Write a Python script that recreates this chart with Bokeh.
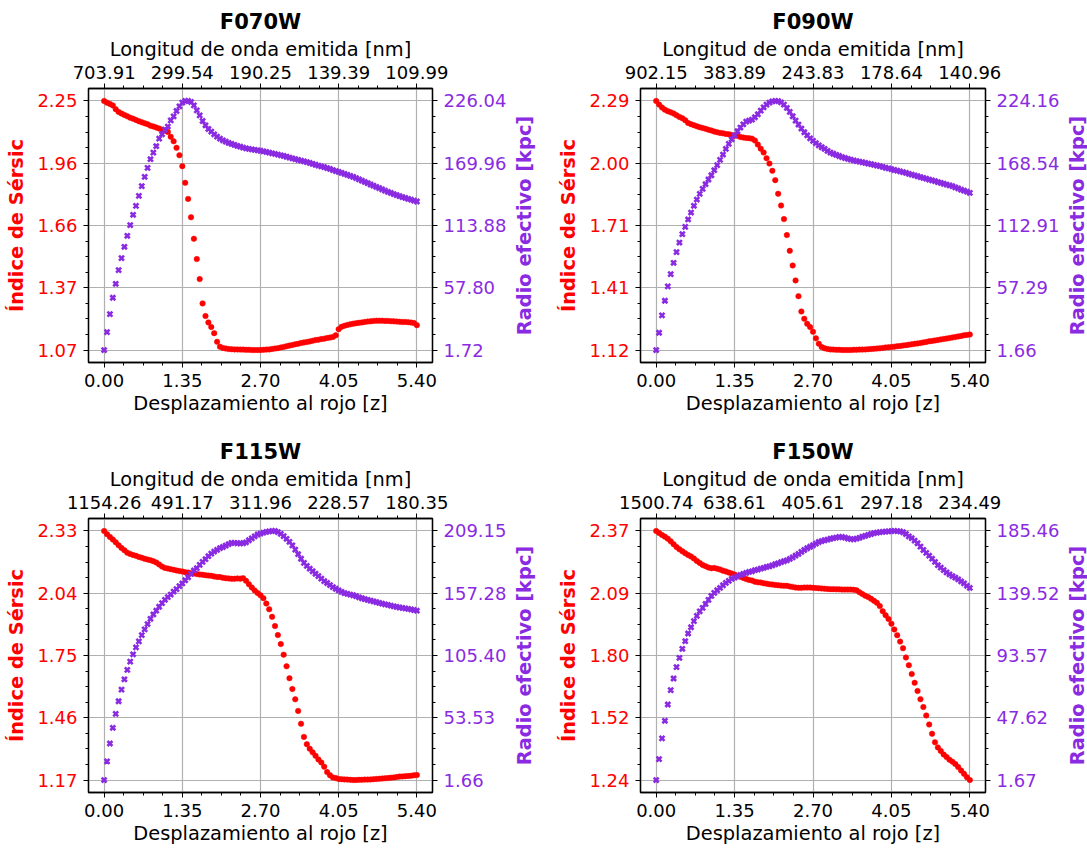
import numpy as np

from bokeh.embed import file_html
from bokeh.layouts import column, row
from bokeh.models import FixedTicker, LinearAxis, Range1d
from bokeh.plotting import figure
from bokeh.resources import INLINE

sersic_red = '#ff0000'
radius_purple = '#8a2be2'
font = 'DejaVu Sans'
tick_font_size = '18px'
label_font_size = '19.4px'
FRAME_H = 274

# redshift grid (same for every filter)
z = [0.00, 0.05, 0.10, 0.15, 0.20, 0.25, 0.30, 0.35, 0.40, 0.45,
     0.50, 0.55, 0.60, 0.65, 0.70, 0.75, 0.80, 0.85, 0.90, 0.95,
     1.00, 1.05, 1.10, 1.15, 1.20, 1.25, 1.30, 1.35, 1.40, 1.45,
     1.50, 1.55, 1.60, 1.65, 1.70, 1.75, 1.80, 1.85, 1.90, 1.95,
     2.00, 2.05, 2.10, 2.15, 2.20, 2.25, 2.30, 2.35, 2.40, 2.45,
     2.50, 2.55, 2.60, 2.65, 2.70, 2.75, 2.80, 2.85, 2.90, 2.95,
     3.00, 3.05, 3.10, 3.15, 3.20, 3.25, 3.30, 3.35, 3.40, 3.45,
     3.50, 3.55, 3.60, 3.65, 3.70, 3.75, 3.80, 3.85, 3.90, 3.95,
     4.00, 4.05, 4.10, 4.15, 4.20, 4.25, 4.30, 4.35, 4.40, 4.45,
     4.50, 4.55, 4.60, 4.65, 4.70, 4.75, 4.80, 4.85, 4.90, 4.95,
     5.00, 5.05, 5.10, 5.15, 5.20, 5.25, 5.30, 5.35, 5.40]
z_ticks = [0.0, 1.35, 2.7, 4.05, 5.4]
z_tick_labels = ['0.00', '1.35', '2.70', '4.05', '5.40']

filters = ['F070W', 'F090W', 'F115W', 'F150W']

wave_labels_070 = ['703.91', '299.54', '190.25', '139.39', '109.99']
wave_labels_090 = ['902.15', '383.89', '243.83', '178.64', '140.96']
wave_labels_115 = ['1154.26', '491.17', '311.96', '228.57', '180.35']
wave_labels_150 = ['1500.74', '638.61', '405.61', '297.18', '234.49']

sersic_labels_070 = ['1.07', '1.37', '1.66', '1.96', '2.25']
sersic_labels_090 = ['1.12', '1.41', '1.71', '2.00', '2.29']
sersic_labels_115 = ['1.17', '1.46', '1.75', '2.04', '2.33']
sersic_labels_150 = ['1.24', '1.52', '1.80', '2.09', '2.37']

radius_labels_070 = ['1.72', '57.80', '113.88', '169.96', '226.04']
radius_labels_090 = ['1.66', '57.29', '112.91', '168.54', '224.16']
radius_labels_115 = ['1.66', '53.53', '105.40', '157.28', '209.15']
radius_labels_150 = ['1.67', '47.62', '93.57', '139.52', '185.46']

sersic_070 = [2.250, 2.242, 2.236, 2.229, 2.211, 2.198, 2.190, 2.184, 2.177, 2.171,
              2.166, 2.160, 2.154, 2.149, 2.144, 2.140, 2.133, 2.129, 2.124, 2.119,
              2.114, 2.110, 2.103, 2.080, 2.059, 2.028, 1.993, 1.941, 1.862, 1.786,
              1.699, 1.597, 1.501, 1.406, 1.291, 1.231, 1.201, 1.179, 1.150, 1.109,
              1.086, 1.080, 1.077, 1.075, 1.074, 1.073, 1.073, 1.072, 1.072, 1.071,
              1.071, 1.070, 1.070, 1.070, 1.070, 1.071, 1.072, 1.073, 1.075, 1.077,
              1.079, 1.082, 1.085, 1.088, 1.091, 1.094, 1.097, 1.100, 1.103, 1.106,
              1.108, 1.111, 1.114, 1.117, 1.119, 1.122, 1.124, 1.127, 1.129, 1.132,
              1.140, 1.169, 1.180, 1.185, 1.189, 1.192, 1.195, 1.197, 1.199, 1.201,
              1.203, 1.205, 1.206, 1.208, 1.209, 1.209, 1.209, 1.208, 1.208, 1.207,
              1.206, 1.205, 1.204, 1.203, 1.203, 1.202, 1.200, 1.198, 1.188]
radius_070 = [1.72, 17.9, 34.1, 48.8, 61.4, 73.7, 84.5, 94.7, 104.6, 114.2,
              123.5, 131.6, 140.6, 149.3, 157.7, 165.8, 173.6, 179.5, 185.3, 192.1,
              196.0, 200.2, 203.0, 208.6, 212.2, 217.0, 221.2, 224.5, 226.0, 226.04,
              225.1, 222.1, 217.6, 213.1, 208.0, 204.1, 200.8, 198.4, 196.0, 193.9,
              192.1, 190.6, 189.4, 188.2, 187.3, 186.4, 185.5, 184.9, 184.0, 183.4,
              182.8, 182.4, 182.0, 181.6, 181.2, 180.7, 180.1, 179.5, 178.9, 178.3,
              177.8, 177.1, 176.5, 175.8, 175.1, 174.4, 173.7, 173.0, 172.3, 171.7,
              171.0, 170.2, 169.4, 168.6, 167.8, 167.1, 166.4, 165.6, 164.8, 163.8,
              162.9, 162.1, 161.3, 160.4, 159.5, 158.6, 157.7, 156.6, 155.4, 154.3,
              153.1, 152.0, 150.8, 149.7, 148.6, 147.5, 146.4, 145.3, 144.2, 143.2,
              142.2, 141.2, 140.3, 139.5, 138.7, 137.9, 137.1, 136.3, 135.5]

sersic_090 = [2.290, 2.273, 2.259, 2.249, 2.242, 2.237, 2.231, 2.223, 2.215, 2.209,
              2.199, 2.187, 2.181, 2.176, 2.171, 2.166, 2.163, 2.159, 2.155, 2.151,
              2.146, 2.143, 2.140, 2.138, 2.135, 2.134, 2.130, 2.127, 2.126, 2.121,
              2.118, 2.116, 2.115, 2.113, 2.104, 2.085, 2.066, 2.048, 2.021, 1.996,
              1.962, 1.918, 1.854, 1.799, 1.735, 1.660, 1.586, 1.517, 1.447, 1.373,
              1.301, 1.267, 1.243, 1.228, 1.206, 1.175, 1.150, 1.134, 1.128, 1.125,
              1.123, 1.122, 1.121, 1.121, 1.120, 1.120, 1.120, 1.120, 1.121, 1.121,
              1.122, 1.122, 1.123, 1.124, 1.125, 1.126, 1.127, 1.128, 1.130, 1.132,
              1.133, 1.134, 1.136, 1.138, 1.139, 1.141, 1.143, 1.145, 1.147, 1.149,
              1.151, 1.153, 1.156, 1.158, 1.161, 1.163, 1.165, 1.167, 1.170, 1.172,
              1.174, 1.176, 1.179, 1.181, 1.184, 1.186, 1.189, 1.191, 1.193]
radius_090 = [1.66, 17.1, 32.6, 45.7, 58.5, 69.5, 79.6, 89.1, 97.7, 105.2,
              111.7, 118.3, 124.5, 130.5, 136.1, 141.2, 145.6, 149.8, 154.0, 157.8,
              162.3, 166.8, 171.5, 176.3, 181.3, 185.8, 189.9, 193.5, 197.1, 200.4,
              203.3, 205.7, 206.6, 207.5, 209.6, 212.3, 215.5, 218.5, 220.9, 222.7,
              223.8, 224.16, 224.1, 222.9, 220.9, 217.9, 214.4, 210.5, 206.6, 203.1,
              199.5, 196.2, 193.5, 190.8, 188.5, 186.4, 184.5, 182.8, 181.3, 179.6,
              178.1, 177.0, 176.0, 175.0, 174.0, 173.2, 172.5, 171.7, 171.0, 170.4,
              169.9, 169.4, 168.8, 168.2, 167.7, 167.1, 166.5, 165.9, 165.2, 164.5,
              163.9, 163.2, 162.5, 161.9, 161.2, 160.6, 159.9, 159.1, 158.4, 157.6,
              156.9, 156.1, 155.4, 154.7, 153.9, 153.2, 152.5, 151.7, 151.0, 150.2,
              149.5, 148.8, 148.0, 147.0, 146.0, 145.0, 144.1, 143.1, 142.1]

sersic_115 = [2.330, 2.315, 2.302, 2.290, 2.277, 2.263, 2.251, 2.240, 2.229, 2.223,
              2.218, 2.214, 2.209, 2.205, 2.200, 2.197, 2.194, 2.189, 2.183, 2.174,
              2.164, 2.158, 2.155, 2.152, 2.149, 2.146, 2.143, 2.141, 2.138, 2.136,
              2.133, 2.132, 2.129, 2.127, 2.126, 2.124, 2.122, 2.121, 2.118, 2.116,
              2.115, 2.112, 2.110, 2.109, 2.107, 2.107, 2.109, 2.108, 2.110, 2.098,
              2.082, 2.067, 2.053, 2.041, 2.030, 2.017, 1.992, 1.965, 1.930, 1.887,
              1.845, 1.803, 1.754, 1.700, 1.644, 1.594, 1.546, 1.492, 1.432, 1.371,
              1.337, 1.316, 1.299, 1.283, 1.266, 1.252, 1.232, 1.207, 1.192, 1.182,
              1.179, 1.175, 1.174, 1.173, 1.172, 1.171, 1.170, 1.170, 1.171, 1.171,
              1.172, 1.172, 1.173, 1.174, 1.175, 1.176, 1.177, 1.178, 1.179, 1.181,
              1.182, 1.184, 1.186, 1.187, 1.188, 1.189, 1.190, 1.192, 1.193]
radius_115 = [1.66, 17.2, 32.1, 45.2, 56.8, 67.3, 77.0, 85.6, 93.4, 100.3,
              106.4, 112.2, 117.2, 122.4, 127.2, 131.6, 136.0, 139.6, 142.7, 146.0,
              149.0, 151.8, 154.0, 156.2, 158.7, 160.7, 163.2, 165.4, 168.1, 170.6,
              173.4, 176.2, 178.1, 180.9, 183.4, 185.6, 188.1, 190.3, 192.0, 193.4,
              194.8, 195.8, 196.9, 198.1, 199.2, 199.2, 198.9, 198.9, 198.9, 199.7,
              201.4, 203.0, 204.7, 206.2, 207.0, 207.7, 208.3, 208.8, 209.1, 209.15,
              208.2, 206.7, 204.8, 202.6, 200.1, 197.1, 193.6, 189.8, 186.0, 182.6,
              180.0, 177.7, 175.6, 173.5, 171.5, 169.4, 167.4, 165.8, 164.1, 162.4,
              161.0, 159.6, 158.4, 157.3, 156.8, 156.2, 155.6, 154.8, 153.9, 153.1,
              152.4, 151.7, 151.1, 150.5, 149.9, 149.2, 148.6, 148.0, 147.5, 146.9,
              146.4, 145.9, 145.4, 145.0, 144.6, 144.2, 143.8, 143.3, 142.7]

sersic_150 = [2.370, 2.361, 2.352, 2.344, 2.335, 2.323, 2.310, 2.297, 2.287, 2.278,
              2.269, 2.261, 2.254, 2.245, 2.234, 2.225, 2.216, 2.210, 2.204, 2.201,
              2.202, 2.199, 2.195, 2.190, 2.186, 2.181, 2.177, 2.172, 2.166, 2.162,
              2.157, 2.152, 2.148, 2.145, 2.140, 2.137, 2.136, 2.133, 2.131, 2.128,
              2.127, 2.125, 2.124, 2.122, 2.121, 2.121, 2.118, 2.116, 2.113, 2.112,
              2.112, 2.113, 2.113, 2.113, 2.112, 2.111, 2.110, 2.109, 2.108, 2.107,
              2.106, 2.106, 2.105, 2.105, 2.104, 2.104, 2.104, 2.104, 2.103, 2.101,
              2.092, 2.084, 2.076, 2.070, 2.062, 2.053, 2.044, 2.029, 2.006, 1.988,
              1.971, 1.949, 1.923, 1.897, 1.868, 1.838, 1.796, 1.761, 1.721, 1.681,
              1.644, 1.607, 1.571, 1.533, 1.492, 1.450, 1.411, 1.388, 1.372, 1.356,
              1.344, 1.332, 1.323, 1.313, 1.299, 1.283, 1.268, 1.253, 1.240]
radius_150 = [1.67, 17.1, 32.4, 45.4, 57.4, 68.0, 76.6, 85.0, 91.8, 98.5,
              104.1, 109.8, 114.4, 118.9, 122.8, 126.2, 128.7, 131.6, 134.6, 137.5,
              139.8, 141.7, 143.4, 145.4, 147.1, 148.6, 150.1, 151.0, 152.0, 153.0,
              153.8, 154.5, 155.2, 155.7, 156.5, 157.0, 157.7, 158.2, 158.9, 159.4,
              160.1, 160.9, 161.6, 162.4, 163.1, 163.8, 164.8, 166.0, 167.3, 168.5,
              170.0, 171.4, 172.7, 173.8, 174.9, 176.1, 177.3, 178.0, 178.6, 179.1,
              179.7, 180.1, 180.6, 181.0, 181.0, 180.5, 179.9, 179.5, 179.3, 179.8,
              180.4, 181.2, 181.9, 182.6, 183.2, 183.8, 184.2, 184.6, 184.8, 185.0,
              185.2, 185.4, 185.46, 185.4, 185.1, 184.5, 183.2, 181.5, 180.1, 178.3,
              176.4, 173.9, 171.4, 169.3, 167.2, 165.0, 162.6, 160.2, 158.4, 156.6,
              154.9, 153.5, 152.2, 151.0, 149.8, 148.2, 146.8, 145.0, 143.4]

# borders per row: (top, bottom) so that both rows' frames sit where the reference has them
ROW_BORDERS = [(88, 60), (96, 56)]
# borders per column: (left of panel, right of panel, left of radius title figure)
COL_BORDERS = [(88, 75, 25), (104, 74, 20)]


def set_ticks(axis, ticks, labels):
    # 5 major ticks with the printed labels, 3 minor ticks between each pair
    minor = [float(v) for v in np.linspace(ticks[0], ticks[-1], 17)]
    axis.ticker = FixedTicker(ticks=ticks, minor_ticks=minor)
    axis.major_label_overrides = dict(zip(ticks, labels))


def style_axis(axis, text_color='black', label_color='black', bold=False,
               standoff=6, label_standoff=3):
    axis.axis_line_color = 'black'
    axis.axis_line_width = 1.3
    axis.major_tick_line_color = 'black'
    axis.minor_tick_line_color = 'black'
    axis.major_tick_out = 5
    axis.major_tick_in = 0
    axis.minor_tick_out = 3
    axis.minor_tick_in = 0
    axis.major_label_text_font = font
    axis.major_label_text_font_size = tick_font_size
    axis.major_label_text_color = text_color
    axis.major_label_standoff = standoff
    axis.axis_label_text_font = font
    axis.axis_label_text_font_size = label_font_size
    axis.axis_label_text_color = label_color
    axis.axis_label_text_font_style = 'bold' if bold else 'normal'
    axis.axis_label_standoff = label_standoff


def create_panel(name, wave_labels, sersic_labels, radius_labels, sersic, radius, col, row_idx):
    lo, hi = min(sersic), max(sersic)
    rlo, rhi = min(radius), max(radius)
    pad = 0.05 * (hi - lo)
    rpad = 0.05 * (rhi - rlo)
    zpad = 0.05 * (z[-1] - z[0])
    top_border, bottom_border = ROW_BORDERS[row_idx]
    left_border, right_border, _ = COL_BORDERS[col]

    p = figure(frame_width=344 if col == 0 else 345, frame_height=FRAME_H,
               x_range=Range1d(z[0] - zpad, z[-1] + zpad),
               y_range=Range1d(lo - pad, hi + pad),
               min_border_left=left_border, min_border_right=right_border,
               min_border_top=top_border, min_border_bottom=bottom_border,
               output_backend='svg', toolbar_location=None, title=name)
    p.extra_y_ranges = {'radius': Range1d(rlo - rpad, rhi + rpad)}
    p.outline_line_color = 'black'
    p.outline_line_width = 1.3
    p.background_fill_color = 'white'
    p.border_fill_color = 'white'

    p.title.align = 'center'
    p.title.text_font = font
    p.title.text_font_size = '21px'
    p.title.text_font_style = 'bold'
    p.title.text_color = 'black'
    p.title.standoff = 2

    # bottom axis: redshift
    xaxis = p.xaxis[0]
    set_ticks(xaxis, z_ticks, z_tick_labels)
    xaxis.axis_label = 'Desplazamiento al rojo [z]'
    style_axis(xaxis, standoff=6, label_standoff=2)

    # top axis: emitted wavelength at the same redshift ticks
    top = LinearAxis(axis_label='Longitud de onda emitida [nm]')
    set_ticks(top, z_ticks, wave_labels)
    style_axis(top, standoff=5, label_standoff=2)
    p.add_layout(top, 'above')

    # left axis: Sersic index
    yaxis = p.yaxis[0]
    sersic_ticks = [float(v) for v in np.linspace(lo, hi, 5)]
    set_ticks(yaxis, sersic_ticks, sersic_labels)
    yaxis.axis_label = 'Índice de Sérsic'
    style_axis(yaxis, text_color=sersic_red, label_color=sersic_red, bold=True,
               standoff=6, label_standoff=6)

    # right axis: effective radius (its title sits in a narrow figure next to it)
    right = LinearAxis(y_range_name='radius')
    radius_ticks = [float(v) for v in np.linspace(rlo, rhi, 5)]
    set_ticks(right, radius_ticks, radius_labels)
    style_axis(right, text_color=radius_purple, standoff=6)
    p.add_layout(right, 'right')

    # grid
    p.xgrid.ticker = xaxis.ticker
    p.ygrid.ticker = yaxis.ticker
    p.xgrid.grid_line_color = '#b0b0b0'
    p.ygrid.grid_line_color = '#b0b0b0'
    p.xgrid.grid_line_width = 1.2
    p.ygrid.grid_line_width = 1.2

    p.scatter(z, sersic, marker='circle', size=5.5, fill_color=sersic_red,
              line_color=sersic_red, line_width=0.5)
    p.scatter(z, radius, marker='x', size=7, line_color=radius_purple,
              line_width=2.6, y_range_name='radius')
    return p


def create_radius_title(col, row_idx):
    # a 1px wide figure whose left axis carries the right-hand label, reading upwards
    top_border, bottom_border = ROW_BORDERS[row_idx]
    f = figure(frame_width=1, frame_height=FRAME_H,
               x_range=Range1d(0, 1), y_range=Range1d(0, 1),
               min_border_left=COL_BORDERS[col][2], min_border_right=0,
               min_border_top=top_border, min_border_bottom=bottom_border,
               x_axis_location=None, output_backend='svg', toolbar_location=None)
    f.outline_line_color = None
    f.grid.visible = False
    ax = f.yaxis[0]
    ax.ticker = FixedTicker(ticks=[])
    ax.axis_line_color = None
    ax.major_tick_line_color = None
    ax.minor_tick_line_color = None
    ax.major_tick_out = 0
    ax.minor_tick_out = 0
    ax.major_label_text_font_size = '0px'
    ax.axis_label = 'Radio efectivo [kpc]'
    ax.axis_label_standoff = 0
    ax.axis_label_text_font = font
    ax.axis_label_text_font_size = label_font_size
    ax.axis_label_text_font_style = 'bold'
    ax.axis_label_text_color = radius_purple
    return f


p1 = create_panel(filters[0], wave_labels_070, sersic_labels_070, radius_labels_070,
                  sersic_070, radius_070, 0, 0)
p2 = create_panel(filters[1], wave_labels_090, sersic_labels_090, radius_labels_090,
                  sersic_090, radius_090, 1, 0)
p3 = create_panel(filters[2], wave_labels_115, sersic_labels_115, radius_labels_115,
                  sersic_115, radius_115, 0, 1)
p4 = create_panel(filters[3], wave_labels_150, sersic_labels_150, radius_labels_150,
                  sersic_150, radius_150, 1, 1)

p = column(row(p1, create_radius_title(0, 0), p2, create_radius_title(1, 0)),
           row(p3, create_radius_title(0, 1), p4, create_radius_title(1, 1)))
open('out.html', 'w').write(file_html(p, INLINE))
